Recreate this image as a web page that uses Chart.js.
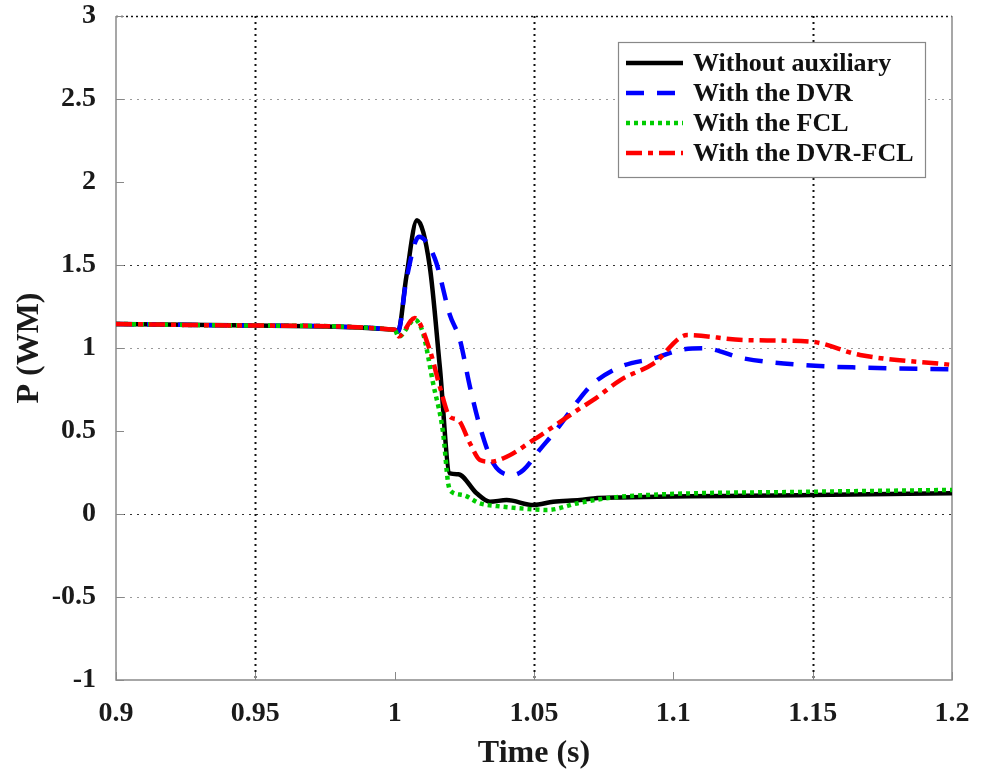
<!DOCTYPE html>
<html>
<head>
<meta charset="utf-8">
<script src="https://cdn.jsdelivr.net/npm/chart.js@4/dist/chart.umd.min.js"></script>
<style>
  html, body { margin: 0; padding: 0; background: #fff; }
  #wrap { width: 985px; height: 773px; }
</style>
</head>
<body>
<div id="wrap"><canvas id="powerChart" width="985" height="773"></canvas></div>
<script>
// tick values
const xTicks = [0.9, 0.95, 1, 1.05, 1.1, 1.15, 1.2];
const yTicks = [-1, -0.5, 0, 0.5, 1, 1.5, 2, 2.5, 3];

// series (time in s, P in WM)
const tBlack = [0.9, 0.95, 1.0, 1.0012, 1.0042, 1.008, 1.0126, 1.0162, 1.0198, 1.0228, 1.0294, 1.0342, 1.0402, 1.0498, 1.0569, 1.0665, 1.0713, 1.081, 1.15, 1.2];
const pBlack = [1.145, 1.135, 1.11, 1.098, 1.43, 1.77, 1.49, 0.887, 0.245, 0.24, 0.125, 0.074, 0.084, 0.054, 0.074, 0.084, 0.094, 0.1, 0.114, 0.125];

const tDvr = [0.9, 0.95, 1.0, 1.0012, 1.0042, 1.0087, 1.0144, 1.0198, 1.0234, 1.027, 1.0306, 1.0354, 1.0426, 1.0462, 1.052, 1.058, 1.0665, 1.0713, 1.081, 1.093, 1.1025, 1.111, 1.125, 1.1457, 1.167, 1.2];
const pDvr = [1.145, 1.135, 1.11, 1.098, 1.41, 1.67, 1.54, 1.2, 1.05, 0.767, 0.526, 0.305, 0.235, 0.265, 0.386, 0.506, 0.697, 0.787, 0.887, 0.938, 0.988, 0.998, 0.938, 0.898, 0.882, 0.872];

const tFcl = [0.9, 0.95, 1.0, 1.0014, 1.0072, 1.0102, 1.0138, 1.0174, 1.0192, 1.0204, 1.0246, 1.0306, 1.0366, 1.0498, 1.0546, 1.0665, 1.081, 1.15, 1.2];
const pFcl = [1.145, 1.135, 1.11, 1.068, 1.17, 1.088, 0.787, 0.486, 0.185, 0.134, 0.114, 0.064, 0.048, 0.028, 0.024, 0.068, 0.104, 0.134, 0.145];

const tDvrFcl = [0.9, 0.95, 1.0, 1.0014, 1.0072, 1.0126, 1.0162, 1.0198, 1.0228, 1.027, 1.0306, 1.0342, 1.0402, 1.0498, 1.0569, 1.0665, 1.0713, 1.081, 1.093, 1.105, 1.1253, 1.1493, 1.167, 1.2];
const pDvrFcl = [1.145, 1.135, 1.11, 1.07, 1.18, 0.988, 0.767, 0.586, 0.566, 0.426, 0.325, 0.315, 0.345, 0.446, 0.526, 0.636, 0.687, 0.807, 0.908, 1.078, 1.048, 1.038, 0.958, 0.898];

const seriesNames = ['Without auxiliary', 'With the DVR', 'With the FCL', 'With the DVR-FCL'];

const pts = (t, p) => t.map((x, i) => ({ x: x, y: p[i] }));
const serif = '"Liberation Serif", "Times New Roman", serif';

// MATLAB-like grid, ticks, box and legend
const framePlugin = {
    id: 'frame',
    beforeDatasetsDraw(chart) {
        const { ctx, chartArea: a, scales: { x, y } } = chart;
        ctx.save();
        // horizontal grid
        yTicks.forEach(v => {
            const py = Math.round(y.getPixelForValue(v)) + 0.5;
            let style = null;
            if (v === 2.5 || v === 1 || v === -0.5) style = { c: '#9a9a9a', w: 1, d: [2, 5] };
            if (v === 1.5 || v === 0) style = { c: '#333', w: 1.2, d: [2, 5] };
            if (v === 3) style = { c: '#111', w: 1.5, d: [2, 3] };
            if (style) {
                ctx.strokeStyle = style.c; ctx.lineWidth = style.w; ctx.setLineDash(style.d);
                ctx.beginPath(); ctx.moveTo(a.left, py); ctx.lineTo(a.right, py); ctx.stroke();
            }
            // inward tick marks
            ctx.setLineDash([]); ctx.strokeStyle = '#888'; ctx.lineWidth = 1;
            ctx.beginPath(); ctx.moveTo(a.left, py); ctx.lineTo(a.left + 8, py); ctx.stroke();
        });
        // vertical grid
        xTicks.forEach(v => {
            const px = Math.round(x.getPixelForValue(v)) + 0.5;
            if (v === 0.95 || v === 1.05 || v === 1.15) {
                ctx.strokeStyle = '#111'; ctx.lineWidth = 2; ctx.setLineDash([2, 4]);
                ctx.beginPath(); ctx.moveTo(px, a.top); ctx.lineTo(px, a.bottom); ctx.stroke();
            }
            ctx.setLineDash([]); ctx.strokeStyle = '#888'; ctx.lineWidth = 1;
            ctx.beginPath(); ctx.moveTo(px, a.bottom); ctx.lineTo(px, a.bottom - 8); ctx.stroke();
        });
        // box
        ctx.setLineDash([]); ctx.strokeStyle = '#8a8a8a'; ctx.lineWidth = 1.5;
        ctx.beginPath();
        ctx.moveTo(a.left, a.top); ctx.lineTo(a.left, a.bottom); ctx.lineTo(a.right, a.bottom); ctx.lineTo(a.right, a.top);
        ctx.stroke();
        ctx.restore();
    },
    afterDatasetsDraw(chart) {
        const { ctx } = chart;
        ctx.save();
        ctx.setLineDash([]);
        ctx.fillStyle = '#fff';
        ctx.fillRect(618, 42, 307, 135);
        ctx.strokeStyle = '#888'; ctx.lineWidth = 1.2;
        ctx.strokeRect(618.5, 42.5, 307, 135);
        ctx.font = 'bold 26px ' + serif;
        ctx.textBaseline = 'middle';
        chart.data.datasets.forEach((ds, i) => {
            const yy = 63 + i * 30;
            ctx.strokeStyle = ds.borderColor; ctx.lineWidth = ds.borderWidth;
            ctx.setLineDash(ds.borderDash || []);
            ctx.beginPath(); ctx.moveTo(626, yy); ctx.lineTo(683, yy); ctx.stroke();
            ctx.setLineDash([]);
            ctx.fillStyle = '#111';
            ctx.fillText(ds.label, 693, yy + 1);
        });
        ctx.restore();
    }
};

new Chart(document.getElementById('powerChart'), {
    type: 'line',
    data: {
        datasets: [
            { label: seriesNames[0], data: pts(tBlack, pBlack), borderColor: '#000', borderWidth: 4.5, tension: 0.35, cubicInterpolationMode: 'monotone', order: 4 },
            { label: seriesNames[1], data: pts(tDvr, pDvr), borderColor: '#0000ff', borderWidth: 4.5, borderDash: [18, 13], tension: 0.35, cubicInterpolationMode: 'monotone', order: 3 },
            { label: seriesNames[2], data: pts(tFcl, pFcl), borderColor: '#00cc00', borderWidth: 4.5, borderDash: [4, 4], tension: 0.35, cubicInterpolationMode: 'monotone', order: 2 },
            { label: seriesNames[3], data: pts(tDvrFcl, pDvrFcl), borderColor: '#ff0000', borderWidth: 4.5, borderDash: [16, 6, 5, 6], tension: 0.35, cubicInterpolationMode: 'monotone', order: 1 }
        ]
    },
    options: {
        responsive: false,
        animation: false,
        parsing: false,
        elements: { point: { radius: 0 } },
        layout: { padding: { top: 16, right: 33, left: 0, bottom: 0 } },
        plugins: { legend: { display: false }, tooltip: { enabled: false } },
        scales: {
            x: {
                type: 'linear', min: 0.9, max: 1.2,
                afterBuildTicks: s => { s.ticks = xTicks.map(v => ({ value: v })); },
                afterFit: s => { s.height = 93; s.paddingLeft = 0; s.paddingRight = 0; },
                grid: { display: false },
                border: { display: false },
                ticks: {
                    color: '#1a1a1a', padding: 9, maxRotation: 0,
                    font: { family: serif, size: 28, weight: 'bold' },
                    callback: v => String(v)
                },
                title: {
                    display: true, text: 'Time (s)', color: '#1a1a1a', padding: { top: 0, bottom: 0 },
                    font: { family: serif, size: 32, weight: 'bold' }
                }
            },
            y: {
                type: 'linear', min: -1, max: 3,
                afterBuildTicks: s => { s.ticks = yTicks.map(v => ({ value: v })); },
                afterFit: s => { s.width = 116; s.paddingTop = 0; s.paddingBottom = 0; },
                grid: { display: false },
                border: { display: false },
                ticks: {
                    color: '#1a1a1a', padding: 12,
                    font: { family: serif, size: 28, weight: 'bold' },
                    callback: v => String(v)
                },
                title: {
                    display: true, text: 'P (WM)', color: '#1a1a1a', padding: { top: 11, bottom: 0 },
                    font: { family: serif, size: 32, weight: 'bold' }
                }
            }
        }
    },
    plugins: [framePlugin]
});
</script>
</body>
</html>
